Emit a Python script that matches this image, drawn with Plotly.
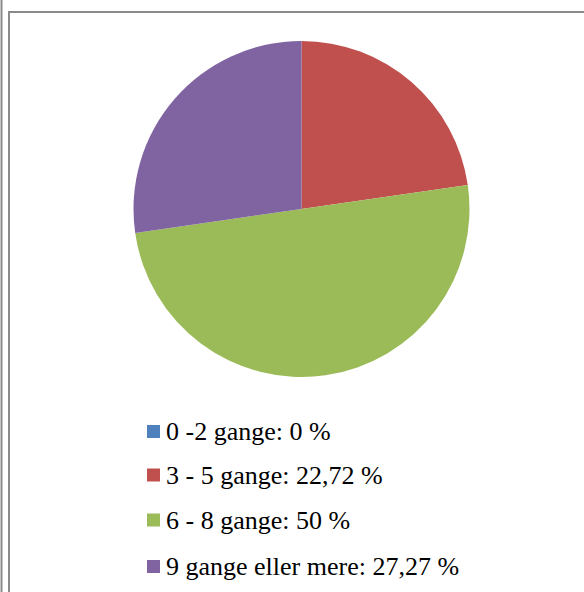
import plotly.graph_objects as go

# Frequency categories and their shares (%)
labels = ["0 -2 gange", "3 - 5 gange", "6 - 8 gange", "9 gange eller mere"]
values = [0, 22.72, 50, 27.27]
value_text = ["0", "22,72", "50", "27,27"]
colors = ["#4F81BD", "#C0504D", "#9BBB59", "#8064A2"]

W, H = 584, 592
SERIF = "'Liberation Serif', 'Times New Roman', serif"


def px(x):
    return x / W


def py(y):
    return 1 - y / H


cx, cy, r = 301.5, 209, 168

fig = go.Figure(
    go.Pie(
        labels=labels,
        values=values,
        marker=dict(colors=colors, line=dict(width=0)),
        sort=False,
        direction="clockwise",
        rotation=0,
        textinfo="none",
        showlegend=False,
        domain=dict(x=[px(cx - r), px(cx + r)], y=[py(cy + r), py(cy - r)]),
    )
)

shapes = []
annotations = []

# Legend rows drawn beneath the pie
row_y = [431.5, 475, 520, 566.5]
for lab, vt, col, yy in zip(labels, value_text, colors, row_y):
    shapes.append(dict(
        type="rect", xref="paper", yref="paper",
        x0=px(147), x1=px(160), y0=py(yy + 6.5), y1=py(yy - 6.5),
        fillcolor=col, line=dict(width=0),
    ))
    annotations.append(dict(
        x=px(164), y=py(yy), xref="paper", yref="paper",
        xanchor="left", yanchor="middle", showarrow=False,
        text=f"{lab}: {vt} %",
        font=dict(family=SERIF, size=26, color="#000000"),
    ))

# Frame lines around the chart area
frame = "#8a8a8a"
shapes += [
    dict(type="line", xref="paper", yref="paper", x0=px(1.5), x1=px(1.5), y0=0, y1=1,
         line=dict(color=frame, width=2)),
    dict(type="line", xref="paper", yref="paper", x0=px(9), x1=px(9), y0=0, y1=py(11),
         line=dict(color=frame, width=2)),
    dict(type="line", xref="paper", yref="paper", x0=px(8), x1=1, y0=py(12), y1=py(12),
         line=dict(color=frame, width=2)),
]

fig.update_layout(
    width=W, height=H,
    margin=dict(l=0, r=0, t=0, b=0),
    font=dict(family=SERIF, size=26, color="#000000"),
    paper_bgcolor="white",
    plot_bgcolor="white",
    shapes=shapes,
    annotations=annotations,
)

fig.write_html("out.html")
